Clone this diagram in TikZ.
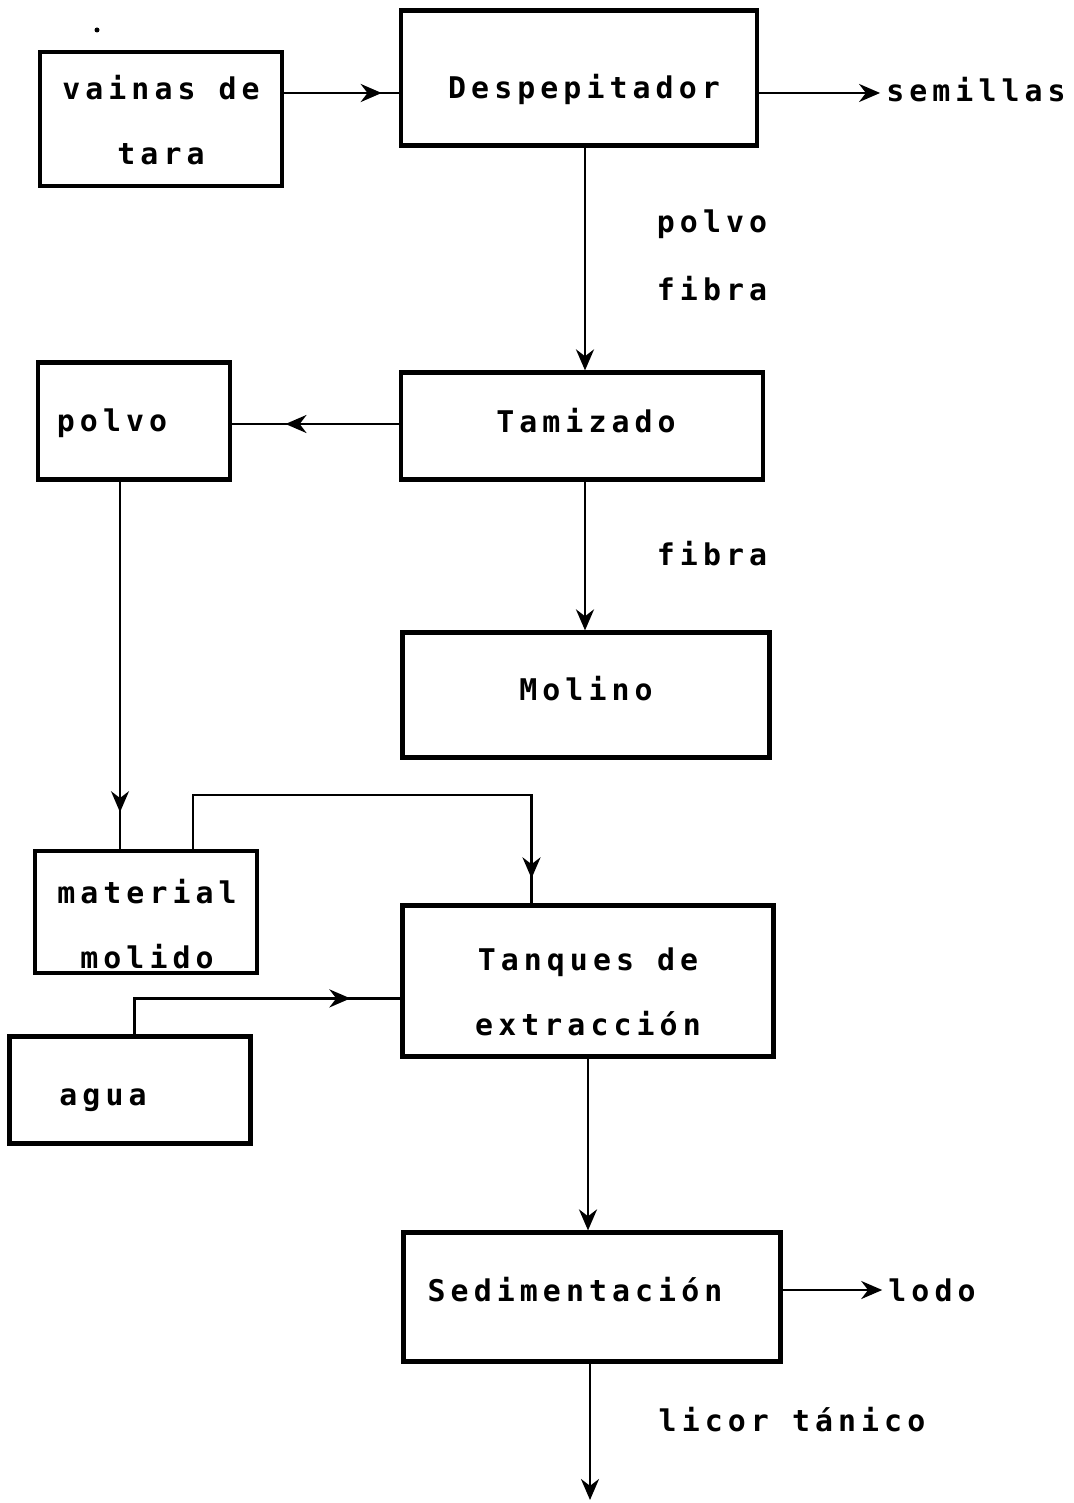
\documentclass[tikz,border=0pt]{standalone}
\usepackage{fontspec}
\usepackage{tikz}
\usetikzlibrary{arrows.meta}
\usetikzlibrary{decorations.markings}
\usetikzlibrary{positioning,calc}
\newfontfamily\dotfont[LetterSpace=17]{DejaVu Sans Mono}

\begin{document}
\begin{tikzpicture}[x=0.02cm,y=-0.02cm,
    font=\dotfont\bfseries\fontsize{17}{37}\selectfont,
    procbox/.style={draw,line width=2.4pt,inner sep=0pt},
    flow/.style={line width=1.6pt},
    tip/.style={-{Stealth[length=4.2mm,width=3.6mm]}},
    midtip/.style={postaction={decorate},decoration={markings,
      mark=at position #1 with {\arrow{Stealth[length=4.2mm,width=3.6mm]}}}}]
    \useasboundingbox (0,0) rectangle (1074,1503);
    \fill (97,30) circle (2.5);
    % boxes, text placed as it sits on the sheet
    \node[procbox,minimum width=4.84cm,minimum height=2.68cm,
      label={[align=center,shift={(0,1)}]center:vainas de\\tara}] (vainas) at (161,119) {};
    \node[procbox,minimum width=7.12cm,minimum height=2.7cm,
      label={[shift={(5,11)}]center:Despepitador}] (desp) at (579,78) {};
    \node[procbox,minimum width=7.24cm,minimum height=2.14cm,
      label={[shift={(4,-5)}]center:Tamizado}] (tamiz) at (582,426) {};
    \node[procbox,minimum width=3.84cm,minimum height=2.34cm,
      label={[shift={(-22,2)}]center:polvo}] (polvo) at (134,421) {};
    \node[procbox,minimum width=7.34cm,minimum height=2.5cm,
      label={[shift={(0,-6)}]center:Molino}] (molino) at (586,695) {};
    \node[procbox,minimum width=4.44cm,minimum height=2.44cm,
      label={[align=center,shift={(1,12)}]center:material\\molido}] (molido) at (146,912) {};
    \node[procbox,minimum width=7.42cm,minimum height=3.02cm,
      label={[align=center,shift={(0,11)}]center:Tanques de\\extracción}] (tanques) at (588,981) {};
    \node[procbox,minimum width=4.82cm,minimum height=2.14cm,
      label={[shift={(-27,10)}]center:agua}] (agua) at (130,1090) {};
    \node[procbox,minimum width=7.54cm,minimum height=2.58cm,
      label={[shift={(-17,-7)}]center:Sedimentación}] (sedim) at (592,1297) {};
    % free labels
    \node (semillas) at (976,90) {semillas};
    \node (lodo) at (932,1290) {lodo};
    \node (lpolvo) at (712,224) {polvo};
    \node (lfibra) at (712,289) {fibra};
    \node (lfibra2) at (712,554) {fibra};
    \node (licor) at (792,1420) {licor tánico};
    \coordinate (salida) at (590,1500);
    % connectors
    \draw[flow,midtip=0.85] ([yshift=0.52cm]vainas.east) -- ([yshift=0.52cm]vainas.east -| desp.west);
    \draw[flow,tip] ([yshift=-0.3cm]desp.east) -- ([yshift=-0.3cm]desp.east -| semillas.west);
    \draw[flow,tip] ([xshift=0.12cm]desp.south) -- ([xshift=0.12cm]desp.south |- tamiz.north);
    \draw[flow,midtip=0.68] ([yshift=0.04cm]tamiz.west) -- ([yshift=0.04cm]tamiz.west -| polvo.east);
    \draw[flow,tip] ([xshift=0.06cm]tamiz.south) -- ([xshift=0.06cm]tamiz.south |- molino.north);
    \draw[line width=1pt,midtip=0.9] ([xshift=-0.28cm]polvo.south) -- ([xshift=-0.28cm]polvo.south |- molido.north);
    \draw[flow,midtip=0.95] ([xshift=0.94cm]molido.north) -- ++(0,-54) -| ([xshift=-1.13cm]tanques.north);
    \draw[flow,midtip=0.83] ([xshift=0.09cm]agua.north) -- ++(0,-36) -| (tanques.west |- 403,1000);
    \draw[flow,tip] (tanques.south) -- (tanques.south |- sedim.north);
    \draw[flow,tip] ([yshift=0.14cm]sedim.east) -- ([yshift=0.14cm]sedim.east -| lodo.west);
    \draw[flow,tip] (salida |- sedim.south) -- (salida);
\end{tikzpicture}
\end{document}
